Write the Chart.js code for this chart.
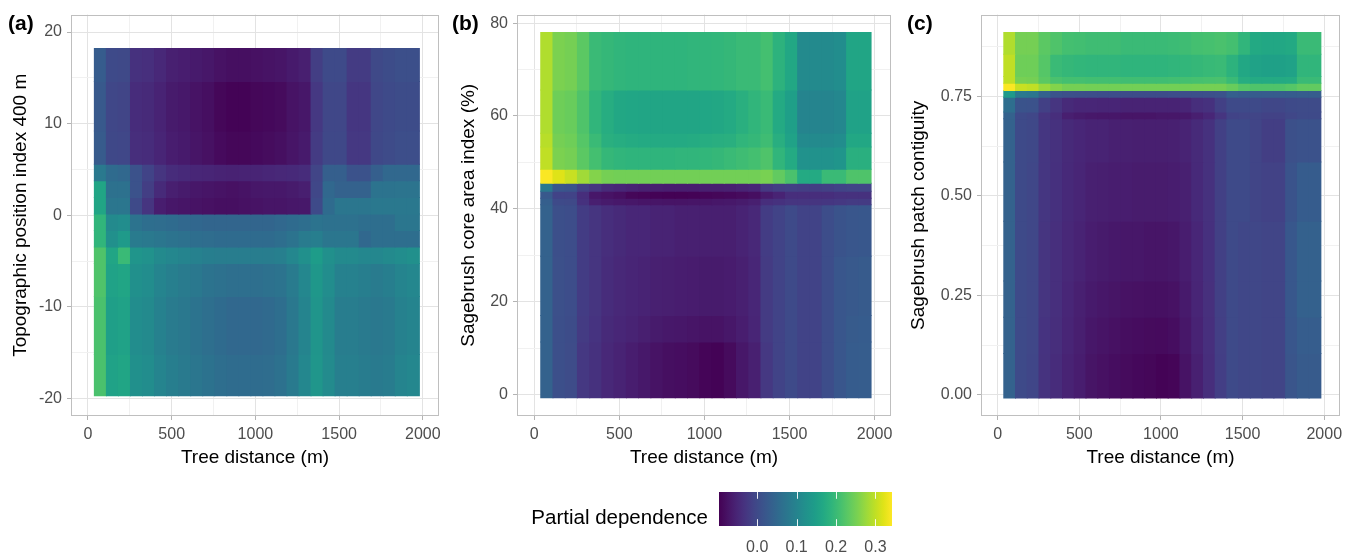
<!DOCTYPE html>
<html>
<head>
<meta charset="utf-8">
<script src="https://cdn.jsdelivr.net/npm/chart.js@4.4.1/dist/chart.umd.min.js"></script>
<style>
  html, body { margin: 0; padding: 0; background: #ffffff; }
  body { width: 1354px; height: 553px; overflow: hidden; position: relative;
         font-family: "Liberation Sans", Arial, Helvetica, sans-serif; }
  canvas { position: absolute; top: 0; }
  .tag { position: absolute; top: 12px; font-weight: bold; font-size: 21px; line-height: 21px; color: #000; }
  #legtitle { position: absolute; top: 507px; right: 646px; font-size: 20.5px; line-height: 20.5px; color: #000; white-space: nowrap; }
</style>
</head>
<body>
<canvas id="pa" width="450" height="480" style="left:0px"></canvas>
<canvas id="pb" width="455" height="480" style="left:445px"></canvas>
<canvas id="pc" width="459" height="480" style="left:895px"></canvas>
<canvas id="leg" width="210" height="73" style="left:700px; top:480px"></canvas>
<div class="tag" style="left:8px">(a)</div>
<div class="tag" style="left:452px">(b)</div>
<div class="tag" style="left:907px">(c)</div>
<div id="legtitle">Partial dependence</div>
<script>
// ---------------- DATA ----------------
// Tree distance grid (m), column centres shared by all three panels
const treeDist = [74.0, 145.9, 217.8, 289.7, 361.6, 433.5, 505.4, 577.3, 649.2, 721.1, 793.0, 864.9, 936.8,
  1008.7, 1080.6, 1152.5, 1224.4, 1296.3, 1368.2, 1440.1, 1512.0, 1583.9, 1655.8, 1727.7, 1799.6, 1871.5, 1943.4];

// (a) Topographic position index 400 m : band edges (top -> bottom) and partial dependence per band
const tpiEdges = [18.2, 14.6, 9.2, 5.56, 3.76, 1.95, 0.15, -1.65, -3.46, -5.27, -8.87, -15.2, -19.7];
const pdTPI = [
  [0.03, 0.0, -0.002, -0.035, -0.038, -0.048, -0.058, -0.062, -0.066, -0.07, -0.076, -0.08, -0.08, -0.078, -0.075, -0.072, -0.066, -0.06, -0.018, 0.0, 0.0, -0.022, -0.022, -0.002, 0.004, 0.008, 0.008],
  [0.025, -0.005, -0.008, -0.042, -0.045, -0.055, -0.065, -0.068, -0.075, -0.08, -0.09, -0.094, -0.094, -0.09, -0.088, -0.085, -0.075, -0.07, -0.025, -0.005, -0.005, -0.028, -0.028, -0.005, 0.0, 0.004, 0.004],
  [0.028, -0.003, -0.005, -0.04, -0.042, -0.052, -0.062, -0.066, -0.072, -0.077, -0.086, -0.09, -0.09, -0.087, -0.084, -0.08, -0.072, -0.066, -0.022, -0.003, -0.003, -0.025, -0.025, -0.003, 0.002, 0.006, 0.006],
  [0.08, 0.055, 0.05, 0.012, -0.01, -0.03, -0.042, -0.046, -0.05, -0.052, -0.055, -0.056, -0.055, -0.053, -0.05, -0.048, -0.046, -0.042, -0.008, 0.035, 0.035, 0.012, 0.012, 0.035, 0.05, 0.05, 0.05],
  [0.16, 0.065, 0.065, 0.012, -0.018, -0.045, -0.06, -0.065, -0.07, -0.072, -0.075, -0.078, -0.075, -0.07, -0.068, -0.068, -0.065, -0.06, -0.005, 0.05, 0.04, 0.04, 0.04, 0.07, 0.07, 0.072, 0.072],
  [0.16, 0.075, 0.075, 0.0, -0.03, -0.062, -0.07, -0.072, -0.075, -0.078, -0.08, -0.08, -0.078, -0.075, -0.072, -0.072, -0.07, -0.068, 0.0, 0.055, 0.075, 0.075, 0.075, 0.078, 0.078, 0.078, 0.078],
  [0.19, 0.11, 0.115, 0.07, 0.06, 0.058, 0.055, 0.05, 0.048, 0.045, 0.045, 0.045, 0.045, 0.045, 0.045, 0.05, 0.055, 0.06, 0.07, 0.065, 0.065, 0.065, 0.06, 0.06, 0.06, 0.075, 0.075],
  [0.19, 0.12, 0.14, 0.085, 0.08, 0.075, 0.07, 0.065, 0.06, 0.058, 0.055, 0.055, 0.055, 0.055, 0.055, 0.06, 0.07, 0.085, 0.09, 0.075, 0.075, 0.075, 0.05, 0.06, 0.06, 0.06, 0.06],
  [0.22, 0.16, 0.2, 0.13, 0.125, 0.11, 0.105, 0.1, 0.095, 0.09, 0.088, 0.088, 0.088, 0.088, 0.088, 0.092, 0.105, 0.12, 0.145, 0.12, 0.11, 0.11, 0.105, 0.105, 0.11, 0.115, 0.12],
  [0.22, 0.155, 0.16, 0.12, 0.115, 0.1, 0.092, 0.085, 0.078, 0.07, 0.065, 0.062, 0.062, 0.062, 0.065, 0.07, 0.085, 0.105, 0.135, 0.115, 0.095, 0.095, 0.09, 0.085, 0.09, 0.1, 0.105],
  [0.215, 0.15, 0.155, 0.115, 0.11, 0.095, 0.085, 0.078, 0.07, 0.062, 0.055, 0.05, 0.05, 0.05, 0.053, 0.06, 0.078, 0.1, 0.13, 0.11, 0.088, 0.088, 0.082, 0.078, 0.082, 0.095, 0.1],
  [0.215, 0.155, 0.16, 0.12, 0.115, 0.1, 0.09, 0.082, 0.075, 0.068, 0.06, 0.056, 0.056, 0.056, 0.058, 0.065, 0.082, 0.105, 0.132, 0.112, 0.092, 0.092, 0.086, 0.082, 0.086, 0.1, 0.105]
];

// (b) Sagebrush core area index (%)
const coreEdges = [78.0, 65.6, 56.3, 53.3, 48.5, 45.5, 43.8, 42.3, 40.9, 29.8, 17.0, 11.3, -0.7];
const pdCore = [
  [0.29, 0.255, 0.25, 0.23, 0.2, 0.195, 0.19, 0.188, 0.188, 0.188, 0.188, 0.188, 0.19, 0.19, 0.192, 0.195, 0.2, 0.2, 0.21, 0.185, 0.165, 0.11, 0.11, 0.11, 0.115, 0.16, 0.16],
  [0.29, 0.245, 0.24, 0.22, 0.19, 0.175, 0.165, 0.162, 0.16, 0.16, 0.16, 0.16, 0.16, 0.162, 0.165, 0.17, 0.18, 0.19, 0.2, 0.17, 0.15, 0.1, 0.1, 0.1, 0.105, 0.155, 0.155],
  [0.295, 0.25, 0.245, 0.225, 0.2, 0.18, 0.175, 0.172, 0.17, 0.17, 0.17, 0.17, 0.172, 0.175, 0.178, 0.18, 0.19, 0.195, 0.205, 0.178, 0.155, 0.11, 0.11, 0.11, 0.115, 0.165, 0.165],
  [0.3, 0.255, 0.25, 0.23, 0.21, 0.195, 0.19, 0.188, 0.188, 0.188, 0.188, 0.19, 0.19, 0.192, 0.195, 0.2, 0.205, 0.21, 0.22, 0.19, 0.17, 0.125, 0.125, 0.125, 0.13, 0.18, 0.18],
  [0.34, 0.32, 0.305, 0.28, 0.26, 0.25, 0.248, 0.248, 0.248, 0.248, 0.248, 0.248, 0.248, 0.248, 0.248, 0.248, 0.248, 0.248, 0.253, 0.235, 0.215, 0.17, 0.17, 0.2, 0.2, 0.22, 0.22],
  [0.078, 0.02, 0.015, -0.015, -0.03, -0.045, -0.05, -0.055, -0.058, -0.06, -0.062, -0.062, -0.062, -0.06, -0.06, -0.058, -0.055, -0.05, -0.025, -0.018, -0.015, -0.018, -0.018, -0.015, -0.01, -0.008, -0.008],
  [0.025, -0.01, -0.01, -0.04, -0.07, -0.075, -0.08, -0.09, -0.092, -0.094, -0.096, -0.096, -0.094, -0.092, -0.09, -0.088, -0.085, -0.08, -0.065, -0.055, -0.04, -0.04, -0.04, -0.04, -0.035, -0.035, -0.035],
  [0.035, 0.0, -0.002, -0.035, -0.06, -0.065, -0.068, -0.07, -0.072, -0.072, -0.074, -0.074, -0.072, -0.072, -0.07, -0.068, -0.065, -0.06, -0.04, -0.035, -0.03, -0.03, -0.03, -0.028, -0.025, -0.022, -0.022],
  [0.04, 0.008, 0.005, -0.02, -0.03, -0.04, -0.045, -0.05, -0.05, -0.055, -0.055, -0.058, -0.058, -0.06, -0.06, -0.06, -0.055, -0.048, -0.02, -0.01, 0.0, -0.01, -0.01, 0.005, 0.015, 0.02, 0.022],
  [0.04, 0.01, 0.005, -0.02, -0.03, -0.042, -0.048, -0.052, -0.055, -0.058, -0.06, -0.062, -0.063, -0.065, -0.065, -0.063, -0.058, -0.05, -0.022, -0.01, 0.0, -0.01, -0.01, 0.005, 0.02, 0.025, 0.028],
  [0.04, 0.008, 0.004, -0.022, -0.032, -0.045, -0.05, -0.055, -0.06, -0.065, -0.068, -0.07, -0.072, -0.075, -0.075, -0.07, -0.062, -0.052, -0.022, -0.01, 0.0, -0.01, -0.01, 0.005, 0.02, 0.028, 0.03],
  [0.04, 0.008, 0.003, -0.025, -0.035, -0.048, -0.055, -0.062, -0.068, -0.075, -0.08, -0.082, -0.085, -0.092, -0.094, -0.085, -0.07, -0.058, -0.025, -0.01, 0.0, -0.01, -0.01, 0.005, 0.02, 0.03, 0.032]
];

// (c) Sagebrush patch contiguity
const contigEdges = [0.9106, 0.856, 0.80, 0.783, 0.765, 0.748, 0.711, 0.694, 0.585, 0.436, 0.286, 0.195, 0.104, -0.008];
const pdContig = [
  [0.29, 0.25, 0.25, 0.23, 0.22, 0.21, 0.208, 0.205, 0.205, 0.205, 0.2, 0.2, 0.2, 0.2, 0.202, 0.205, 0.21, 0.212, 0.215, 0.21, 0.19, 0.168, 0.165, 0.165, 0.168, 0.2, 0.2],
  [0.3, 0.245, 0.245, 0.225, 0.2, 0.195, 0.192, 0.19, 0.19, 0.19, 0.188, 0.188, 0.188, 0.188, 0.19, 0.192, 0.195, 0.198, 0.2, 0.185, 0.165, 0.155, 0.152, 0.152, 0.155, 0.19, 0.19],
  [0.3, 0.252, 0.25, 0.23, 0.215, 0.21, 0.21, 0.208, 0.208, 0.208, 0.206, 0.206, 0.206, 0.206, 0.208, 0.21, 0.212, 0.214, 0.215, 0.2, 0.175, 0.17, 0.17, 0.17, 0.172, 0.2, 0.2],
  [0.34, 0.305, 0.3, 0.275, 0.26, 0.25, 0.25, 0.248, 0.248, 0.248, 0.248, 0.248, 0.248, 0.248, 0.248, 0.248, 0.25, 0.25, 0.25, 0.24, 0.225, 0.22, 0.22, 0.22, 0.225, 0.235, 0.235],
  [0.14, 0.08, 0.075, 0.04, 0.015, 0.01, 0.008, 0.006, 0.005, 0.005, 0.004, 0.004, 0.004, 0.004, 0.005, 0.006, 0.008, 0.01, 0.012, 0.035, 0.03, 0.03, 0.03, 0.03, 0.03, 0.032, 0.032],
  [0.06, 0.015, 0.012, -0.015, -0.03, -0.045, -0.05, -0.05, -0.052, -0.052, -0.055, -0.055, -0.055, -0.055, -0.055, -0.052, -0.04, -0.035, -0.015, 0.0, 0.0, 0.0, -0.005, -0.005, 0.0, 0.002, 0.002],
  [0.04, 0.0, -0.005, -0.03, -0.04, -0.06, -0.065, -0.068, -0.07, -0.07, -0.072, -0.072, -0.072, -0.07, -0.07, -0.068, -0.06, -0.05, -0.03, -0.01, -0.008, -0.008, -0.012, -0.012, -0.005, 0.0, 0.0],
  [0.04, 0.0, -0.003, -0.028, -0.035, -0.045, -0.05, -0.055, -0.055, -0.058, -0.058, -0.06, -0.06, -0.06, -0.058, -0.055, -0.045, -0.035, -0.015, 0.0, 0.0, -0.008, -0.018, -0.018, 0.01, 0.012, 0.012],
  [0.04, 0.0, -0.004, -0.028, -0.036, -0.046, -0.052, -0.058, -0.06, -0.062, -0.062, -0.064, -0.064, -0.064, -0.062, -0.058, -0.046, -0.035, -0.015, 0.0, 0.0, -0.008, -0.012, -0.012, 0.015, 0.03, 0.03],
  [0.04, 0.0, -0.005, -0.03, -0.038, -0.048, -0.055, -0.062, -0.065, -0.068, -0.07, -0.07, -0.072, -0.072, -0.07, -0.062, -0.05, -0.036, -0.015, 0.0, -0.005, -0.005, -0.008, -0.008, 0.022, 0.038, 0.038],
  [0.04, 0.0, -0.005, -0.03, -0.038, -0.05, -0.058, -0.066, -0.07, -0.073, -0.076, -0.077, -0.079, -0.079, -0.076, -0.066, -0.052, -0.037, -0.015, 0.0, -0.005, -0.005, -0.008, -0.008, 0.022, 0.038, 0.038],
  [0.04, 0.0, -0.005, -0.032, -0.04, -0.052, -0.06, -0.07, -0.074, -0.078, -0.081, -0.083, -0.085, -0.086, -0.082, -0.07, -0.055, -0.038, -0.016, 0.0, -0.005, -0.005, -0.008, -0.008, 0.02, 0.032, 0.032],
  [0.04, 0.0, -0.006, -0.033, -0.042, -0.054, -0.062, -0.073, -0.078, -0.082, -0.085, -0.088, -0.09, -0.094, -0.092, -0.075, -0.058, -0.04, -0.017, 0.0, -0.005, -0.005, -0.008, -0.008, 0.018, 0.028, 0.028]
];

// Axis ticks and colour scale
const xTicks = [0, 250, 500, 750, 1000, 1250, 1500, 1750, 2000];
const xMajor = [0, 500, 1000, 1500, 2000];
const tpiTicks = [-20, -15, -10, -5, 0, 5, 10, 15, 20];
const tpiMajor = [-20, -10, 0, 10, 20];
const coreTicks = [0, 10, 20, 30, 40, 50, 60, 70, 80];
const coreMajor = [0, 20, 40, 60, 80];
const contigTicks = [0, 0.125, 0.25, 0.375, 0.5, 0.625, 0.75, 0.875];
const contigMajor = [0, 0.25, 0.5, 0.75];
const pdLimits = [-0.097, 0.342];
const legendBreaks = [0.0, 0.1, 0.2, 0.3];

// ---------------- STYLE ----------------
const VIRIDIS = ['#440154','#471365','#482475','#463480','#414487','#3b528b','#355f8d','#2f6c8e','#2a788e','#25848e',
  '#21918c','#1e9c89','#22a884','#2fb47c','#44bf70','#5ec962','#7ad151','#9bd93c','#bddf26','#dfe318','#fde725'];
function hexRgb(h) { return [parseInt(h.substr(1,2),16), parseInt(h.substr(3,2),16), parseInt(h.substr(5,2),16)]; }
const VRGB = VIRIDIS.map(hexRgb);
function viridisT(t) {
  t = Math.max(0, Math.min(1, t));
  const p = t * (VRGB.length - 1);
  const i = Math.min(Math.floor(p), VRGB.length - 2);
  const f = p - i;
  const a = VRGB[i], b = VRGB[i + 1];
  return 'rgb(' + [0,1,2].map(k => Math.round(a[k] + (b[k] - a[k]) * f)).join(',') + ')';
}
function colorFor(v) { return viridisT((v - pdLimits[0]) / (pdLimits[1] - pdLimits[0])); }

Chart.defaults.font.family = "'Liberation Sans', Arial, Helvetica, sans-serif";
const TICK_COL = '#4d4d4d';
const GRID_MAJOR = '#e3e3e3';
const GRID_MINOR = '#f1f1f1';
const AXIS_COL = '#b3b3b3';

function isIn(list, v) { return typeof v === 'number' && list.some(m => Math.abs(m - v) < 1e-9); }
function tickVal(ctx) { return ctx && ctx.tick ? ctx.tick.value : undefined; }

const framePlugin = {
  id: 'frame',
  afterDraw(chart) {
    const { ctx, chartArea: a } = chart;
    ctx.save();
    ctx.strokeStyle = '#bfbfbf';
    ctx.lineWidth = 1;
    const l = Math.round(a.left) + 0.5, t = Math.round(a.top) + 0.5;
    const r = Math.round(a.right) - 0.5, b = Math.round(a.bottom) - 0.5;
    ctx.strokeRect(l, t, r - l, b - t);
    ctx.restore();
  }
};

function makePanel(id, o) {
  const datasets = o.values.map((row, r) => ({
    data: row.map((v, c) => ({ x: treeDist[c], y: [o.edges[r + 1], o.edges[r]] })),
    backgroundColor: row.map(colorFor),
    borderWidth: 0,
    inflateAmount: 0.5,
    grouped: false,
    barPercentage: 1,
    categoryPercentage: 1
  }));
  const gridCfg = (major) => ({
    offset: false,
    color: ctx => isIn(major, tickVal(ctx)) ? GRID_MAJOR : GRID_MINOR,
    lineWidth: 1,
    drawTicks: true,
    tickLength: 4,
    tickWidth: 1,
    tickColor: ctx => isIn(major, tickVal(ctx)) ? AXIS_COL : 'rgba(0,0,0,0)'
  });
  return new Chart(document.getElementById(id), {
    type: 'bar',
    data: { datasets },
    options: {
      responsive: false,
      animation: false,
      devicePixelRatio: 1,
      events: [],
      layout: { padding: { left: 0, right: o.padR, top: 12, bottom: 0 } },
      plugins: { legend: { display: false }, tooltip: { enabled: false } },
      scales: {
        x: {
          type: 'linear', position: 'bottom', min: -101.5, max: 2096.5, offset: false,
          afterBuildTicks: s => { s.ticks = xTicks.map(v => ({ value: v })); },
          afterFit: s => { s.height = 64; },
          grid: gridCfg(xMajor),
          border: { display: false },
          ticks: { autoSkip: false, maxRotation: 0, padding: 5, color: TICK_COL, font: { size: 16 },
                   callback: v => isIn(xMajor, v) ? String(v) : '' },
          title: { display: true, text: 'Tree distance (m)', color: '#000', font: { size: 19 },
                   padding: { top: 0, bottom: 10.6 } }
        },
        y: {
          type: 'linear', position: 'left', min: o.yMin, max: o.yMax, offset: false,
          afterBuildTicks: s => { s.ticks = o.ticks.map(v => ({ value: v })); },
          afterFit: s => { s.width = o.yWidth; },
          grid: gridCfg(o.major),
          border: { display: false },
          ticks: { autoSkip: false, padding: 5, color: TICK_COL, font: { size: 16 },
                   callback: v => isIn(o.major, v) ? o.fmt(v) : '' },
          title: { display: true, text: o.title, color: '#000', font: { size: 19 },
                   padding: { top: o.titlePad, bottom: 0 } }
        }
      }
    },
    plugins: [framePlugin]
  });
}

makePanel('pa', { values: pdTPI, edges: tpiEdges, yMin: -21.9, yMax: 21.9, ticks: tpiTicks, major: tpiMajor,
  fmt: v => String(v), title: 'Topographic position index 400 m', yWidth: 71, padR: 11, titlePad: 9.3 });
makePanel('pb', { values: pdCore, edges: coreEdges, yMin: -4.65, yMax: 81.85, ticks: coreTicks, major: coreMajor,
  fmt: v => String(v), title: 'Sagebrush core area index (%)', yWidth: 72, padR: 9, titlePad: 12.7 });
makePanel('pc', { values: pdContig, edges: contigEdges, yMin: -0.0532, yMax: 0.9555, ticks: contigTicks, major: contigMajor,
  fmt: v => v.toFixed(2), title: 'Sagebrush patch contiguity', yWidth: 86, padR: 14, titlePad: 12.1 });

// ---------------- COLOUR BAR ----------------
const colorbarPlugin = {
  id: 'colorbar',
  beforeDatasetsDraw(chart) {
    const { ctx, chartArea: a, scales } = chart;
    const xs = scales.x;
    const x0 = xs.getPixelForValue(pdLimits[0]), x1 = xs.getPixelForValue(pdLimits[1]);
    const g = ctx.createLinearGradient(x0, 0, x1, 0);
    VIRIDIS.forEach((c, i) => g.addColorStop(i / (VIRIDIS.length - 1), c));
    ctx.save();
    ctx.fillStyle = g;
    ctx.fillRect(x0, a.top, x1 - x0, a.bottom - a.top);
    ctx.strokeStyle = 'rgba(255,255,255,0.9)';
    ctx.lineWidth = 1;
    const tl = (a.bottom - a.top) / 5;
    legendBreaks.forEach(b => {
      const px = Math.round(xs.getPixelForValue(b)) + 0.5;
      ctx.beginPath();
      ctx.moveTo(px, a.top); ctx.lineTo(px, a.top + tl);
      ctx.moveTo(px, a.bottom - tl); ctx.lineTo(px, a.bottom);
      ctx.stroke();
    });
    ctx.restore();
  }
};
new Chart(document.getElementById('leg'), {
  type: 'scatter',
  data: { datasets: [{ data: [] }] },
  options: {
    responsive: false, animation: false, devicePixelRatio: 1, events: [],
    layout: { padding: { left: 19, right: 18, top: 12, bottom: 0 } },
    plugins: { legend: { display: false }, tooltip: { enabled: false } },
    scales: {
      x: {
        type: 'linear', min: pdLimits[0], max: pdLimits[1],
        afterBuildTicks: s => { s.ticks = legendBreaks.map(v => ({ value: v })); },
        afterFit: s => { s.height = 27; },
        grid: { display: false, drawTicks: false },
        border: { display: false },
        ticks: { autoSkip: false, maxRotation: 0, padding: 12, color: TICK_COL, font: { size: 16 },
                 callback: v => v.toFixed(1) }
      },
      y: { display: false, min: 0, max: 1 }
    }
  },
  plugins: [colorbarPlugin]
});
</script>
</body>
</html>
